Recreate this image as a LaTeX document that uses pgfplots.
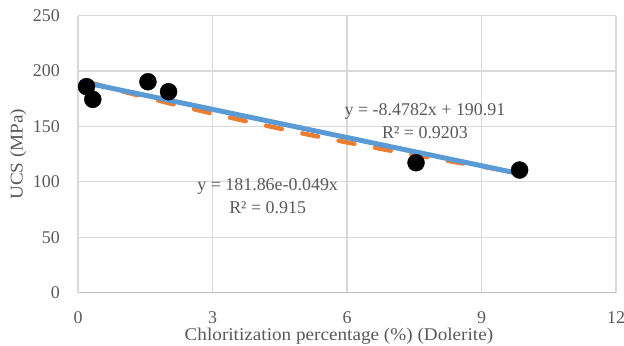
\documentclass[border=0pt]{standalone}
\usepackage{pgfplots}
\pgfplotsset{compat=1.18}
\usepackage{fontspec}
\setmainfont{Liberation Serif}
\newfontfamily\labelfont{Liberation Serif}[FakeStretch=1.07]
\usetikzlibrary{calc}
\definecolor{txt}{HTML}{595959}
\definecolor{gridc}{HTML}{D9D9D9}
\definecolor{axc}{HTML}{BFBFBF}
\definecolor{blueL}{HTML}{5B9BD5}
\definecolor{orangeL}{HTML}{ED7D31}
\begin{document}
\begin{tikzpicture}
\begin{axis}[name=ax, scale only axis, width=538bp, height=277bp,
  xmin=0, xmax=12, ymin=0, ymax=250,
  xtick={0,3,6,9,12}, ytick={0,50,100,150,200,250},
  grid=major, major grid style={draw=gridc, line width=1.2bp},
  axis lines*=left,
  x axis line style={draw=axc, line width=1.3bp},
  y axis line style={draw=gridc, line width=1.2bp},
  major tick length=0pt,
  tick label style={font=\fontsize{18}{21}\selectfont, text=txt, inner sep=0pt},
  y tick label style={anchor=east, xshift=-18bp},
  x tick label style={anchor=north, yshift=-19bp},
  /pgf/number format/assume math mode=true,
  xlabel={Chloritization percentage (\%) (Dolerite)},
  ylabel={UCS (MPa)},
  label style={font=\labelfont\fontsize{18}{21}\selectfont, text=txt, inner sep=0pt},
  xlabel style={at={(axis description cs:0.485,0)}, anchor=north, yshift=-35.5bp},
  ylabel style={at={(axis description cs:-0.111,0.5)}, anchor=center},
  clip=false,
]
\addplot[only marks, mark=*, mark size=8.5bp, black] coordinates {
  (0.19,186.0) (0.33,174.5) (1.56,190.4) (2.02,181.4) (7.54,117.3) (9.85,110.7)
};
\addplot[orangeL, line width=4.5bp, line cap=round, dash pattern=on 16bp off 21bp] coordinates {
  (0.19,190.47) (1,181.67) (2,171.37) (3,161.65) (4,152.48) (5,143.83)
  (6,135.67) (7,127.97) (8,120.71) (9,113.86) (9.85,108.35)
};
\addplot[blueL, line width=5bp, line cap=round] coordinates {
  (0.19,189.30) (9.85,107.40)
};
\node[font=\fontsize{18}{23}\selectfont, text=txt, align=center] at (axis cs:7.74,154.5)
  {y = -8.4782x + 190.91\\R² = 0.9203};
\node[font=\fontsize{18}{23}\selectfont, text=txt, align=center] at (axis cs:4.23,87.5)
  {y = 181.86e-0.049x\\R² = 0.915};
\end{axis}
\pgfresetboundingbox
\path[use as bounding box] ($(ax.south west)+(-78bp,-53.3bp)$) rectangle ($(ax.north east)+(8bp,15.7bp)$);
\end{tikzpicture}
\end{document}
